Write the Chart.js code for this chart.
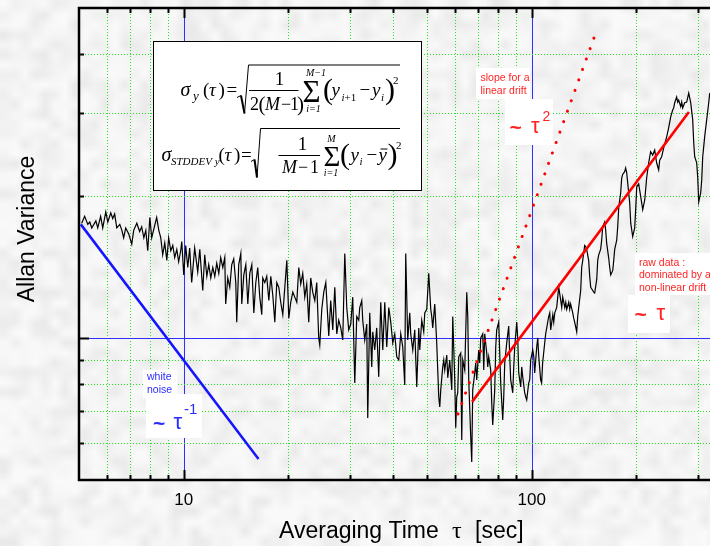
<!DOCTYPE html>
<html>
<head>
<meta charset="utf-8">
<title>Allan variance</title>
<script src="https://cdn.jsdelivr.net/npm/chart.js@4.4.1/dist/chart.umd.min.js"></script>
<style>
  html, body { margin: 0; padding: 0; overflow: hidden; background: #ececec; }
  #wrap { width: 710px; height: 546px; overflow: hidden; }
  canvas { display: block; }
</style>
</head>
<body>
<div id="wrap"><canvas id="allanChart" width="740" height="546"></canvas></div>
<script>
// averaging time tau [s] and Allan variance (relative units, 1 = blue reference line)
const rawPoints = [
  [5.09,1.75],[5.19,1.81],[5.30,1.74],[5.37,1.76],[5.44,1.71],[5.59,1.77],[5.66,1.71],[5.77,1.81],[5.85,1.71],[5.97,1.85],
  [6.05,1.76],[6.17,1.84],[6.25,1.79],[6.33,1.83],[6.42,1.71],[6.55,1.74],[6.64,1.69],[6.72,1.63],[6.81,1.71],[6.95,1.66],
  [7.09,1.58],[7.18,1.69],[7.33,1.75],[7.47,1.68],[7.57,1.72],[7.68,1.63],[7.78,1.69],[7.88,1.53],[7.99,1.80],[8.09,1.63],
  [8.25,1.73],[8.36,1.80],[8.48,1.69],[8.59,1.63],[8.70,1.50],[8.82,1.59],[8.94,1.46],[9.05,1.63],[9.18,1.53],[9.30,1.57],
  [9.42,1.48],[9.55,1.54],[9.67,1.45],[9.80,1.53],[9.87,1.60],[10.0,1.36],[10.13,1.57],[10.27,1.41],[10.40,1.55],[10.54,1.31],
  [10.75,1.55],[10.97,1.38],
  [11.12,1.54],[11.34,1.26],[11.49,1.50],[11.65,1.35],[11.80,1.43],[11.96,1.34],[12.12,1.41],[12.28,1.35],[12.44,1.44],[12.61,1.37],
  [12.77,1.48],[12.95,1.41],[13.12,1.48],[13.20,1.18],[13.38,1.34],[13.56,1.28],[13.74,1.43],[13.92,1.47],[14.11,1.31],[14.20,1.08],
  [14.39,1.43],[14.59,1.51],[14.68,1.18],[14.88,1.36],[15.08,1.43],[15.28,1.18],[15.48,1.37],[15.69,1.43],[15.90,1.13],[16.11,1.31],
  [16.32,1.41],[16.54,1.22],[16.76,1.12],[16.87,1.34],[17.10,1.31],[17.32,1.35],[17.56,1.20],[17.79,1.35],[18.03,1.23],[18.27,1.08],
  [18.51,1.31],[18.76,1.28],[19.00,1.19],[19.26,1.12],[19.52,1.28],[19.78,1.46],[20.04,1.10],[20.30,1.19],[20.58,1.25],[20.85,1.22],
  [21.13,1.19],[21.41,1.41],[21.69,1.30],[21.98,1.37],[22.28,1.22],[22.57,1.30],[22.87,1.08],[23.17,1.34],[23.48,1.25],[23.80,1.20],
  [24.11,1.31],[24.43,1.00],[24.60,0.966],[24.93,1.15],[25.26,1.25],[25.60,1.31],
  [26.11,1.01],[26.45,1.20],[26.81,1.04],[27.17,1.28],[27.53,1.02],[27.89,1.09],[28.27,1.05],[28.64,0.99],[29.03,1.51],[29.41,1.16],
  [29.80,1.04],[30.20,1.07],[30.60,1.22],[31.01,0.803],[31.42,1.11],[31.84,1.09],[32.05,1.16],[32.48,1.20],[32.69,1.09],[33.13,0.99],
  [33.57,1.07],[33.79,0.677],[34.24,1.13],[34.70,0.868],[34.93,1.03],[35.39,0.943],[35.86,1.05],[36.34,0.827],[36.83,1.19],[37.33,0.943],
  [37.82,1.19],[38.32,0.957],[38.84,1.16],[39.35,1.08],[39.88,0.976],[40.41,1.02],[40.94,0.912],[41.49,0.898],[42.04,1.02],[42.60,0.957],
  [43.17,0.795],[43.45,1.51],[44.03,0.99],[44.62,1.13],[44.91,1.02],[45.52,0.943],[46.12,1.04],[46.74,0.787],[47.36,1.05],[47.67,0.943],
  [48.31,1.09],[48.95,1.03],[49.28,1.13],[49.93,1.15],[50.60,1.37],[51.27,1.15],[51.61,1.11],[51.95,1.05],[52.65,1.18],[53.34,0.976],
  [54.06,0.75],[54.42,0.714],
  [54.78,0.776],[55.51,0.868],[55.88,0.898],[56.25,0.855],[57.00,0.92],[57.38,0.823],[58.14,0.898],[58.92,0.776],[59.31,1.11],[60.10,0.815],
  [60.49,0.645],[60.90,0.75],[61.30,0.765],[61.71,0.912],[62.53,0.929],[62.95,0.608],[63.37,0.898],[64.21,0.855],[65.07,1.25],[65.50,1.11],
  [65.93,0.815],[66.80,0.617],[67.25,0.546],[67.69,0.776],[68.60,0.843],[69.05,0.885],[69.51,0.815],[70.43,0.943],[70.90,0.885],[71.37,1.00],
  [72.33,1.02],[72.81,0.855],[73.29,1.02],[74.26,0.929],[74.76,0.868],[75.25,0.912],[76.25,0.855],[76.77,0.728],[77.27,0.654],[78.30,0.776],
  [78.82,0.957],[79.34,1.04],[80.40,1.08],[80.93,0.929],[81.46,0.803],[82.56,0.67],[83.11,0.75],[83.66,0.885],[84.77,0.976],[85.90,1.06],
  [86.47,0.912],[87.04,0.815],[88.21,0.765],[88.80,0.868],[89.38,0.957],[90.57,1.08],[91.17,1.00],[91.78,0.843],[92.99,0.787],[93.62,0.868],
  [94.24,0.827],[95.49,0.765],[96.12,0.75],[96.76,0.739],[98.05,0.803],[98.70,0.815],[99.35,0.898],[100.7,0.943],[101.4,0.912],[102.0,0.843],
  [103.4,0.957],[104.1,1.00],[104.8,0.912],[106.1,0.815],[106.8,0.803],[107.5,0.885],[109.0,0.976],[109.7,1.02],
  [111.9,1.11],[112.7,1.13],[113.4,1.04],[115.0,1.12],[115.7,1.08],[116.5,1.13],[118.0,1.16],[118.8,1.22],[119.6,1.28],[121.2,1.20],
  [122.0,1.16],[122.8,1.22],[124.5,1.16],[125.3,1.19],[126.1,1.15],[127.8,1.19],[128.6,1.15],[129.4,1.18],[131.2,1.13],[132.1,1.10],
  [132.9,1.08],[134.7,1.03],[135.6,1.11],[136.5,1.16],[138.3,1.26],[139.2,1.41],[140.2,1.46],[142.0,1.57],[143.0,1.56],[143.9,1.54],
  [145.8,1.46],[146.8,1.35],[147.8,1.28],[149.8,1.26],[150.7,1.25],[151.7,1.245],[153.8,1.33],[154.8,1.46],[155.8,1.50],[157.8,1.54],
  [158.9,1.61],[160.0,1.72],[162.1,1.76],[163.2,1.69],[164.2,1.59],[166.4,1.48],[167.6,1.41],[168.7,1.36],[171.0,1.39],[172.1,1.46],
  [173.2,1.54],[175.5,1.61],[176.7,1.72],[177.9,1.89],[180.2,2.03],[181.4,2.18],[182.6,2.22],[185.0,2.25],[186.2,2.29],[187.5,2.24],
  [190.0,2.03],[191.3,1.93],[192.6,1.75],[195.1,1.64],[197.7,1.71],[199.0,1.87],[200.4,2.09],[203.0,2.12],
  [205.8,1.99],[208.5,1.87],[211.3,1.96],[214.1,2.19],[216.9,2.35],[219.7,2.48],[222.7,2.44],[225.7,2.50],[228.6,2.35],[231.7,2.27],
  [233.3,2.38],[236.4,2.42],[239.6,2.53],[244.4,2.67],[247.6,2.79],[250.9,2.94],[254.2,3.04],[255.9,3.07],[257.6,3.15],[261.0,3.24],
  [262.8,3.16],[264.5,3.19],[268.1,3.09],[269.9,3.16],[271.6,3.07],[275.3,3.15],[278.9,3.16],[280.8,3.23],[282.7,3.30],[286.4,3.15],
  [290.2,2.90],[292.2,2.59],[294.1,2.42],[298.0,2.35],[300.0,2.19],[302.0,1.94],[306.0,2.03],[308.1,2.16],[310.1,2.42],[314.2,2.67],
  [318.4,2.90],[322.7,3.15],[324.8,3.30]
];

// slope guides: white noise ~ tau^-1, linear drift ~ tau^2, measured drift ~ tau
const whiteNoise = [[5.06, 1.74], [16.4, 0.554]];
const linearDrift = [[61.4, 0.690], [152.7, 4.42]];
const nonLinearDrift = [[67.4, 0.732], [283, 3.01]];

// axes
const xRange = [5, 350];
const yRange = [0.5, 5];
const xTicks = [6, 7, 8, 9, 10, 20, 30, 40, 50, 60, 70, 80, 90, 100, 200, 300];
const xLabelled = [10, 100];
const yTicks = [0.6, 0.7, 0.8, 0.9, 1, 2, 3, 4];
const yMajor = [1];

const SANS = '"Liberation Sans", Arial, Helvetica, sans-serif';
const SERIF = '"Liberation Serif", "Times New Roman", serif';
const GRID_GREEN = '#1ee61e';
const REF_BLUE = '#2f2fff';
const RED = '#ff0000';
const TEXT_RED = '#ff2424';
const TEXT_BLUE = '#2c2cff';

const toXY = pts => pts.map(([x, y]) => ({ x, y }));

// mottled grey backdrop
function makeGrain(w, h) {
  const c = document.createElement('canvas');
  c.width = w; c.height = h;
  const g = c.getContext('2d');
  const img = g.createImageData(w, h);
  for (let i = 0; i < w * h; i++) {
    const s = Math.sin(i * 12.9898 + 78.233) * 43758.5453;
    const r = s - Math.floor(s);
    const v = Math.round(250 - 17 * Math.pow(r, 1.7));
    img.data[i * 4] = img.data[i * 4 + 1] = img.data[i * 4 + 2] = v;
    img.data[i * 4 + 3] = 255;
  }
  g.putImageData(img, 0, 0);
  return c;
}
const grain = makeGrain(74, 55);

const backdrop = {
  id: 'backdrop',
  beforeDraw(chart) {
    const { ctx, width, height } = chart;
    ctx.save();
    ctx.imageSmoothingEnabled = true;
    ctx.drawImage(grain, 0, 0, width, height);
    ctx.restore();
  }
};

// dotted green grid with solid blue lines at the decades and at 1
const gridLines = {
  id: 'gridLines',
  beforeDatasetsDraw(chart) {
    const { ctx, chartArea: a, scales: { x, y } } = chart;
    ctx.save();
    ctx.lineWidth = 1;
    xTicks.forEach(v => {
      const px = Math.round(x.getPixelForValue(v)) + 0.5;
      const major = xLabelled.includes(v);
      ctx.strokeStyle = major ? REF_BLUE : GRID_GREEN;
      ctx.setLineDash(major ? [] : [1, 2]);
      ctx.beginPath();
      ctx.moveTo(px, a.top);
      ctx.lineTo(px, a.bottom);
      ctx.stroke();
    });
    yTicks.forEach(v => {
      const py = Math.round(y.getPixelForValue(v)) + 0.5;
      const major = yMajor.includes(v);
      ctx.strokeStyle = major ? REF_BLUE : GRID_GREEN;
      ctx.setLineDash(major ? [] : [1, 2]);
      ctx.beginPath();
      ctx.moveTo(a.left, py);
      ctx.lineTo(a.right, py);
      ctx.stroke();
    });
    ctx.restore();
  }
};

function put(ctx, s, x, y, size, italic, family, align, bold) {
  ctx.font = (italic ? 'italic ' : '') + (bold ? 'bold ' : '') + size + 'px ' + (family || SERIF);
  ctx.textAlign = align || 'left';
  ctx.fillText(s, x, y);
}

function line(ctx, pts, w) {
  ctx.lineWidth = w;
  ctx.beginPath();
  ctx.moveTo(pts[0][0], pts[0][1]);
  for (let i = 1; i < pts.length; i++) ctx.lineTo(pts[i][0], pts[i][1]);
  ctx.stroke();
}

function drawFormulas(ctx) {
  ctx.fillStyle = '#fff';
  ctx.fillRect(153.5, 41.5, 268, 149);
  ctx.strokeStyle = '#000';
  ctx.lineWidth = 1;
  ctx.strokeRect(153.5, 41.5, 268, 149);
  ctx.fillStyle = '#000';
  ctx.textBaseline = 'alphabetic';

  // sigma_y(tau) = sqrt( 1/(2(M-1)) * sum (y_{i+1} - y_i)^2 )
  put(ctx, 'σ', 180.5, 96, 20, true);
  put(ctx, 'y', 193, 100, 13, true);
  put(ctx, '(', 203, 96, 19);
  put(ctx, 'τ', 209, 96, 19, true);
  put(ctx, ')', 218.5, 96, 19);
  put(ctx, '=', 226.5, 96, 19);
  line(ctx, [[237, 97.5], [241, 95.5]], 1);
  line(ctx, [[241, 95.5], [244.5, 113.5]], 2);
  line(ctx, [[244.5, 113.5], [248.5, 65], [400, 65]], 1);
  put(ctx, '1', 279.5, 85, 19, false, SERIF, 'center');
  line(ctx, [[249, 90.5], [298.5, 90.5]], 1);
  put(ctx, '2', 250, 109.5, 18);
  put(ctx, '(', 258.5, 110.5, 21);
  put(ctx, 'M', 265, 109.5, 18, true);
  put(ctx, '−', 281, 109.5, 18);
  put(ctx, '1', 290, 109.5, 18);
  put(ctx, ')', 297, 110.5, 21);
  put(ctx, 'Σ', 302.5, 101.5, 31);
  put(ctx, 'M−1', 316, 76, 10, true, SERIF, 'center');
  put(ctx, 'i=1', 313.5, 111.5, 10, true, SERIF, 'center');
  put(ctx, '(', 323, 99, 30);
  put(ctx, 'y', 331.5, 96, 19, true);
  put(ctx, 'i', 341.5, 100.5, 11, true);
  put(ctx, '+1', 344.5, 100.5, 11);
  put(ctx, '−', 359.5, 96, 19);
  put(ctx, 'y', 372, 96, 19, true);
  put(ctx, 'i', 381, 100.5, 11, true);
  put(ctx, ')', 385, 99, 30);
  put(ctx, '2', 393, 84, 11);

  // sigma_STDDEV y(tau) = sqrt( 1/(M-1) * sum (y_i - ybar)^2 )
  put(ctx, 'σ', 161.5, 160.5, 20, true);
  put(ctx, 'STDDEV y', 171, 164.5, 11, true);
  put(ctx, '(', 218.5, 160.5, 19);
  put(ctx, 'τ', 224.5, 160.5, 19, true);
  put(ctx, ')', 234, 160.5, 19);
  put(ctx, '=', 241, 160.5, 19);
  line(ctx, [[251, 161.5], [254.5, 159.5]], 1);
  line(ctx, [[254.5, 159.5], [257, 177.5]], 2);
  line(ctx, [[257, 177.5], [260.5, 128.5], [400, 128.5]], 1);
  put(ctx, '1', 302.5, 149.5, 19, false, SERIF, 'center');
  line(ctx, [[278.5, 155.5], [320, 155.5]], 1);
  put(ctx, 'M', 282, 173, 18, true);
  put(ctx, '−', 298, 173, 18);
  put(ctx, '1', 310, 173, 18);
  put(ctx, 'Σ', 323.5, 165.5, 29);
  put(ctx, 'M', 331.5, 142, 10, true, SERIF, 'center');
  put(ctx, 'i=1', 331, 175.5, 10, true, SERIF, 'center');
  put(ctx, '(', 340, 163.5, 30);
  put(ctx, 'y', 350.5, 160.5, 19, true);
  put(ctx, 'i', 359.5, 164.5, 11, true);
  put(ctx, '−', 366.5, 160.5, 19);
  put(ctx, 'y', 378.5, 160.5, 19, true);
  line(ctx, [[380.5, 149], [387.5, 149]], 1);
  put(ctx, ')', 387.5, 163.5, 30);
  put(ctx, '2', 396, 148.5, 11);
}

function whiteBox(ctx, x, y, w, h) {
  ctx.fillStyle = '#fff';
  ctx.fillRect(x, y, w, h);
}

const notes = {
  id: 'notes',
  beforeDatasetsDraw(chart) {
    const ctx = chart.ctx;
    ctx.save();
    drawFormulas(ctx);

    // linear drift note
    whiteBox(ctx, 476, 68, 54, 31);
    whiteBox(ctx, 505, 99, 48, 46);
    ctx.fillStyle = TEXT_RED;
    put(ctx, 'slope for a', 480.5, 81, 10.5, false, SANS);
    put(ctx, 'linear drift', 480.5, 93.5, 10.5, false, SANS);
    put(ctx, '~', 509.5, 134, 21, false, SANS, 'left', true);
    put(ctx, 'τ', 531, 133, 22, false, SANS);
    put(ctx, '2', 542.5, 120.5, 14, false, SANS);

    // white noise note
    whiteBox(ctx, 143, 370, 34, 28);
    whiteBox(ctx, 146, 394, 56, 44);
    ctx.fillStyle = TEXT_BLUE;
    put(ctx, 'white', 147, 380, 10.5, false, SANS);
    put(ctx, 'noise', 147, 392.5, 10.5, false, SANS);
    put(ctx, '~', 153, 430, 21, false, SANS, 'left', true);
    put(ctx, 'τ', 173.5, 428.5, 22, false, SANS);
    put(ctx, '-1', 184, 413.5, 15, false, SANS);

    // measured drift note
    whiteBox(ctx, 635, 253, 90, 42);
    whiteBox(ctx, 628, 295, 42, 38);
    ctx.fillStyle = TEXT_RED;
    put(ctx, 'raw data :', 639, 265.5, 10.5, false, SANS);
    put(ctx, 'dominated by a', 639, 278, 10.5, false, SANS);
    put(ctx, 'non-linear drift', 639, 290.5, 10.5, false, SANS);
    put(ctx, '~', 634.5, 321, 21, false, SANS, 'left', true);
    put(ctx, 'τ', 656.5, 320, 22, false, SANS);
    ctx.restore();
  }
};

const frame = {
  id: 'frame',
  afterDraw(chart) {
    const { ctx, chartArea: a, scales: { x, y } } = chart;
    ctx.save();
    ctx.strokeStyle = '#000';
    ctx.lineWidth = 2;
    ctx.beginPath();
    xTicks.forEach(v => {
      const px = Math.round(x.getPixelForValue(v)) + 0.5;
      const len = xLabelled.includes(v) ? 10 : 5;
      ctx.moveTo(px, a.bottom); ctx.lineTo(px, a.bottom - len);
      ctx.moveTo(px, a.top); ctx.lineTo(px, a.top + len);
    });
    yTicks.forEach(v => {
      const py = Math.round(y.getPixelForValue(v)) + 0.5;
      const len = yMajor.includes(v) ? 10 : 5;
      ctx.moveTo(a.left, py); ctx.lineTo(a.left + len, py);
    });
    ctx.stroke();
    ctx.lineWidth = 2.5;
    ctx.strokeRect(a.left, a.top, a.right - a.left, a.bottom - a.top);

    // axis titles
    ctx.fillStyle = '#000';
    ctx.textBaseline = 'alphabetic';
    put(ctx, 'Averaging Time', 279, 538, 23, false, SANS);
    put(ctx, 'τ', 452, 538, 24, false, SERIF);
    put(ctx, '[sec]', 475, 538, 23, false, SANS);
    ctx.translate(33.5, 229);
    ctx.rotate(-Math.PI / 2);
    put(ctx, 'Allan Variance', 0, 0, 23, false, SANS, 'center');
    ctx.restore();
  }
};

new Chart(document.getElementById('allanChart'), {
  type: 'line',
  data: {
    datasets: [
      { label: 'non-linear drift', data: toXY(nonLinearDrift), borderColor: RED, borderWidth: 2.6 },
      { label: 'linear drift', data: toXY(linearDrift), borderColor: RED, borderWidth: 3,
        borderDash: [0.1, 11], borderCapStyle: 'round' },
      { label: 'white noise', data: toXY(whiteNoise), borderColor: '#1414ff', borderWidth: 2.5 },
      { label: 'raw data', data: toXY(rawPoints), borderColor: '#000', borderWidth: 1.2 }
    ]
  },
  options: {
    responsive: false,
    animation: false,
    events: [],
    elements: { point: { radius: 0 }, line: { tension: 0 } },
    layout: { padding: { left: 79, top: 8, right: 19, bottom: 0 } },
    plugins: { legend: { display: false }, tooltip: { enabled: false } },
    scales: {
      x: {
        type: 'logarithmic',
        min: xRange[0],
        max: xRange[1],
        afterBuildTicks: s => { s.ticks = xTicks.map(v => ({ value: v })); },
        afterFit: s => { s.height = 66; },
        ticks: {
          autoSkip: false,
          maxRotation: 0,
          padding: 10,
          color: '#000',
          font: { family: SANS, size: 17 },
          callback: v => xLabelled.includes(v) ? String(v) : ''
        },
        grid: { display: false, drawTicks: false },
        border: { display: false }
      },
      y: {
        type: 'logarithmic',
        min: yRange[0],
        max: yRange[1],
        afterBuildTicks: s => { s.ticks = yTicks.map(v => ({ value: v })); },
        afterFit: s => { s.width = 0; },
        ticks: { display: false },
        grid: { display: false, drawTicks: false },
        border: { display: false }
      }
    }
  },
  plugins: [backdrop, gridLines, notes, frame]
});
</script>
</body>
</html>
